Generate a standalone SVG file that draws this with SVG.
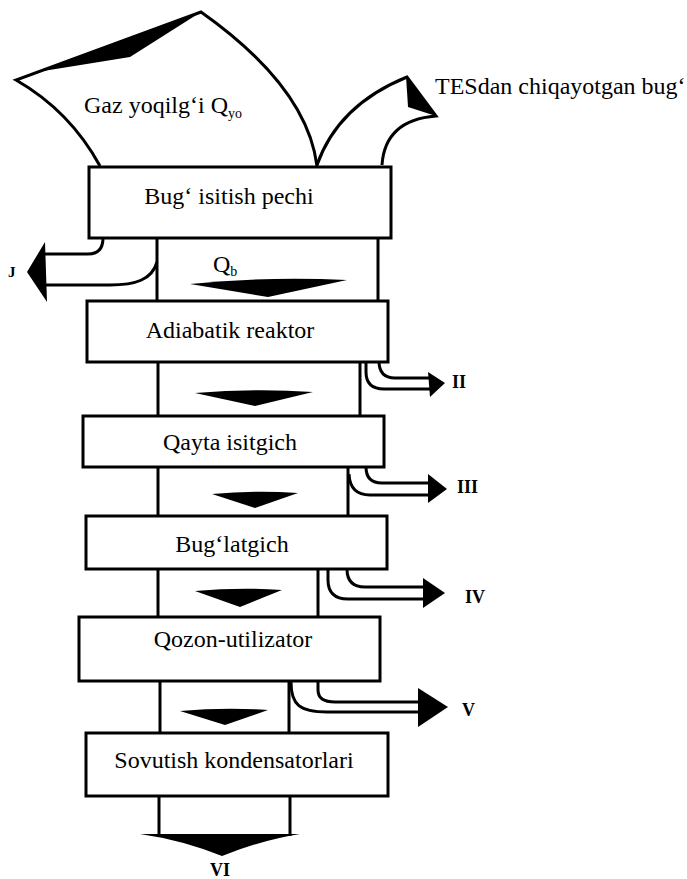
<svg xmlns="http://www.w3.org/2000/svg" width="687" height="879" viewBox="0 0 687 879">
<style>
.box{fill:#fff;stroke:#000;stroke-width:3}
.ln{fill:none;stroke:#000;stroke-width:3;stroke-linecap:butt}
.fill{fill:#000;stroke:none}
.t{font-family:"Liberation Serif","Times New Roman",serif;font-size:24px;fill:#000}
.lab{font-family:"Liberation Serif","Times New Roman",serif;font-size:18px;font-weight:bold;fill:#000}
.sub{font-size:14px}
</style>
<rect width="687" height="879" fill="#fff"/>
<g id="gaz-input">
<path class="ln" d="M100,166 Q70,111 16,80 L201,12 Q307,87 317,166"/>
<path class="fill" d="M37,72 L201,12 L130,57 Z"/>
<text class="t" x="84" y="113">Gaz yoqilg‘i Q<tspan class="sub" dy="5">yo</tspan></text>
</g>
<g id="tes-input">
<path class="ln" d="M317,165 Q338,105 407,77 L436,116 Q385,120 382,165"/>
<path class="fill" d="M406,76 L436,116 L408,107 Z"/>
<text class="t" x="435" y="94">TESdan chiqayotgan bug‘</text>
</g>
<g id="connectors">
<line class="ln" x1="157" y1="238" x2="157" y2="301"/>
<line class="ln" x1="378" y1="238" x2="378" y2="301"/>
<line class="ln" x1="158" y1="362" x2="158" y2="416"/>
<line class="ln" x1="360" y1="362" x2="360" y2="416"/>
<line class="ln" x1="158" y1="467" x2="158" y2="516"/>
<line class="ln" x1="348" y1="467" x2="348" y2="516"/>
<line class="ln" x1="158" y1="569" x2="158" y2="617"/>
<line class="ln" x1="318" y1="569" x2="318" y2="617"/>
<line class="ln" x1="160" y1="681" x2="160" y2="733"/>
<line class="ln" x1="289" y1="681" x2="289" y2="733"/>
<line class="ln" x1="159" y1="796" x2="159" y2="836"/>
<line class="ln" x1="290" y1="796" x2="290" y2="836"/>
<path class="fill" d="M190,284 Q268,276 347,280 L268,297 Z"/>
<path class="fill" d="M195,393 Q255,388 313,392 L255,406 Z"/>
<path class="fill" d="M212,494 Q255,490 298,493 L255,508 Z"/>
<path class="fill" d="M195,591 Q240,587 282,590 L240,607 Z"/>
<path class="fill" d="M180,711 Q225,707 268,710 L225,725 Z"/>
<path class="fill" d="M140,834 L300,834 Q262,840 222,856 Q182,840 140,834 Z"/>
<path class="ln" d="M103,238 Q103,254 88,254 L45,254"/>
<path class="ln" d="M157,262 C152,280 135,285 110,285 L45,285"/>
<path class="fill" d="M45,242 L27,272 L47,302 Z"/>
<path class="ln" d="M379,361 Q379,378 395,378 L430,378"/>
<path class="ln" d="M366,361 L366,372 Q366,389 384,389 L430,389"/>
<path class="fill" d="M428,372 L445,383 L430,397 Z"/>
<path class="ln" d="M366,467 Q366,483 382,483 L430,483"/>
<path class="ln" d="M349,474 Q350,495 370,495 L430,495"/>
<path class="fill" d="M428,474 L447,489 L428,503 Z"/>
<path class="ln" d="M347,569 Q347,587 365,587 L425,587"/>
<path class="ln" d="M328,569 L328,580 Q328,599 348,599 L425,599"/>
<path class="fill" d="M423,578 L445,593 L423,608 Z"/>
<path class="ln" d="M318,681 L318,690 Q318,702 335,702 L420,702"/>
<path class="ln" d="M291,682 C291,705 300,712 327,712 L420,712"/>
<path class="fill" d="M418,688 L448,707 L418,727 Z"/>
<text class="lab" x="8" y="277" style="font-size:15px">J</text>
<text class="lab" x="452" y="388">II</text>
<text class="lab" x="457" y="493">III</text>
<text class="lab" x="465" y="603">IV</text>
<text class="lab" x="462" y="716">V</text>
<text class="lab" x="220" y="876" text-anchor="middle">VI</text>
<text class="t" x="213" y="272">Q<tspan class="sub" dy="4">b</tspan></text>
</g>
<g id="bug-isitish-pechi">
<rect class="box" x="89" y="167" width="302" height="71"/>
<text class="t" x="229" y="204" text-anchor="middle">Bug‘ isitish pechi</text>
</g>
<g id="adiabatik-reaktor">
<rect class="box" x="87" y="301" width="301" height="61"/>
<text class="t" x="230" y="338" text-anchor="middle">Adiabatik reaktor</text>
</g>
<g id="qayta-isitgich">
<rect class="box" x="83" y="416" width="301" height="51"/>
<text class="t" x="230" y="450" text-anchor="middle">Qayta isitgich</text>
</g>
<g id="buglatgich">
<rect class="box" x="86" y="516" width="301" height="53"/>
<text class="t" x="232" y="552" text-anchor="middle">Bug‘latgich</text>
</g>
<g id="qozon-utilizator">
<rect class="box" x="79" y="617" width="301" height="64"/>
<text class="t" x="233" y="647" text-anchor="middle">Qozon-utilizator</text>
</g>
<g id="sovutish-kondensatorlari">
<rect class="box" x="86" y="733" width="302" height="63"/>
<text class="t" x="234" y="768" text-anchor="middle">Sovutish kondensatorlari</text>
</g>
</svg>
